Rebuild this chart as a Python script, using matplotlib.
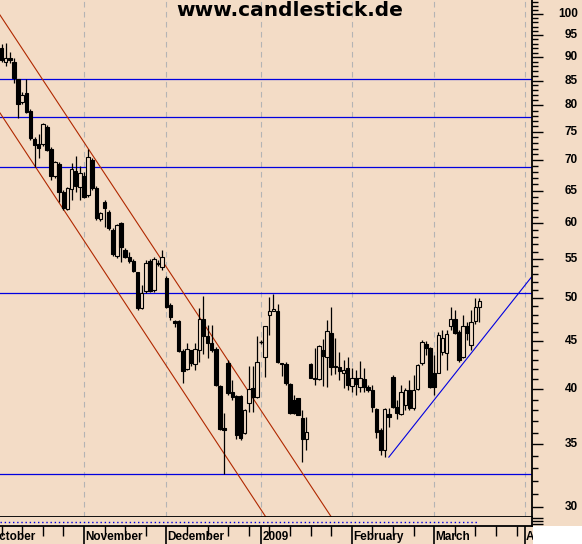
import numpy as np
import pandas as pd
import matplotlib
matplotlib.use("Agg")
import matplotlib.pyplot as plt
from matplotlib.patches import Rectangle
from matplotlib.ticker import FixedLocator, NullFormatter
import matplotlib.transforms as mtransforms

# ---------------- data ----------------
origin_date = "2008-10-01"          # first weekday of the x axis
first_bar_date = "2008-10-06"

opens = [92.06, 88.97, 89.84, 88.97, 85.35, 80.69, 82.49, 78.94, 73.72, 72.83,
         72.83, 75.92, 71.95, 67.36, 69.36, 64.77, 62.14, 65.25, 68.18, 65.57,
         67.36, 64.30, 70.04, 65.41, 60.64, 63.21, 61.69, 59.03, 55.40, 60.05,
         56.22, 55.27, 54.73, 53.28, 48.80, 50.87, 54.73, 50.99, 54.46, 53.94,
         52.51, 49.15, 47.26, 47.26, 43.93, 42.04, 44.04, 42.55, 44.04, 47.50,
         45.57, 44.80, 44.15, 40.33, 36.41, 42.66, 39.75, 39.36, 39.36, 35.96,
         38.69, 40.14, 39.27, 44.91, 43.29, 47.97, 48.44, 48.44, 42.66, 42.55,
         40.53, 38.98, 39.17, 37.30, 35.44, 42.55, 41.13, 41.03, 44.04, 43.29,
         45.90, 42.35, 42.25, 41.63, 42.14, 40.33, 41.13, 40.23, 41.03, 40.23,
         39.94, 38.13, 36.23, 34.50, 37.67, 41.23, 38.31, 37.67, 38.50, 39.94,
         38.22, 40.04, 42.66, 44.69, 44.26, 41.63, 41.63, 43.82, 43.72, 46.69,
         47.50, 46.02, 43.29, 46.69, 44.58, 47.26, 48.91]
highs = [92.97, 93.19, 91.17, 89.84, 85.35, 82.69, 85.35, 79.32, 74.08, 74.63,
         76.66, 76.29, 72.30, 69.87, 69.70, 65.09, 65.57, 69.53, 70.73, 69.02,
         68.02, 71.95, 70.38, 65.73, 61.69, 63.52, 61.99, 59.32, 59.90, 60.19,
         56.50, 55.95, 55.00, 53.28, 51.61, 54.86, 55.00, 55.27, 54.86, 56.22,
         52.76, 49.39, 47.38, 47.38, 44.15, 44.80, 44.04, 44.80, 48.80, 50.25,
         46.81, 46.81, 44.36, 40.43, 37.76, 42.98, 40.93, 39.46, 39.46, 38.13,
         42.35, 42.35, 45.57, 45.13, 46.69, 50.12, 50.49, 49.27, 42.66, 42.77,
         40.63, 39.46, 39.17, 38.04, 37.40, 42.66, 44.26, 44.58, 45.24, 47.38,
         48.91, 45.35, 43.82, 42.98, 43.29, 42.14, 41.94, 42.87, 42.14, 40.43,
         40.43, 38.22, 36.41, 38.22, 38.22, 41.43, 38.98, 40.43, 40.14, 40.93,
         41.43, 42.55, 45.13, 45.02, 44.36, 43.50, 46.02, 46.24, 46.24, 48.91,
         48.56, 46.24, 47.97, 47.15, 48.56, 50.00, 50.00]
lows = [88.97, 88.10, 88.75, 84.52, 77.61, 80.31, 78.55, 73.54, 68.85, 70.38,
        72.47, 71.59, 66.70, 67.03, 63.21, 61.99, 61.99, 63.52, 64.77, 63.52,
        63.83, 63.99, 65.09, 60.49, 60.34, 59.47, 59.03, 55.40, 55.13, 54.59,
        55.13, 54.46, 53.28, 48.56, 48.68, 50.62, 50.74, 50.74, 54.07, 53.54,
        48.80, 47.38, 46.58, 43.82, 40.63, 41.94, 42.35, 41.94, 42.77, 43.61,
        43.19, 43.82, 40.33, 36.23, 32.53, 39.46, 38.98, 35.44, 35.35, 35.88,
        37.86, 37.86, 39.17, 44.69, 41.23, 45.68, 48.44, 42.66, 41.33, 40.43,
        37.67, 37.67, 37.58, 33.50, 34.50, 41.13, 40.43, 40.93, 40.33, 40.23,
        41.43, 41.53, 40.93, 40.14, 39.94, 39.75, 39.46, 39.75, 39.75, 39.75,
        37.86, 35.53, 34.08, 33.91, 36.49, 38.22, 37.21, 37.58, 38.04, 38.04,
        38.04, 39.94, 42.45, 43.50, 40.14, 39.46, 41.63, 43.50, 41.94, 46.24,
        45.79, 42.77, 43.19, 45.13, 44.04, 46.92, 47.15]
closes = [89.41, 89.84, 89.41, 85.56, 80.31, 82.09, 78.74, 73.90, 72.65, 72.12,
          76.48, 71.77, 67.36, 69.70, 64.77, 62.29, 65.41, 68.52, 65.73, 67.85,
          63.99, 70.55, 65.41, 60.79, 61.53, 62.29, 59.32, 55.68, 59.76, 56.63,
          55.27, 54.73, 53.41, 48.80, 50.62, 54.46, 50.87, 55.00, 54.33, 55.27,
          48.91, 47.74, 47.03, 43.93, 41.84, 44.15, 42.66, 44.15, 47.50, 45.57,
          44.80, 44.04, 40.43, 36.32, 36.23, 39.65, 39.27, 35.79, 35.53, 38.04,
          40.04, 39.27, 42.77, 44.91, 46.69, 48.44, 48.68, 42.77, 42.55, 40.63,
          37.76, 37.76, 37.58, 35.44, 36.05, 41.13, 41.03, 44.47, 43.40, 46.13,
          42.25, 42.25, 41.84, 41.94, 40.43, 41.13, 40.53, 41.13, 40.23, 39.94,
          38.31, 36.05, 34.50, 38.13, 37.40, 38.31, 37.76, 39.75, 39.94, 38.22,
          39.94, 42.45, 44.91, 44.26, 40.23, 40.23, 45.68, 45.35, 45.79, 47.50,
          45.90, 42.98, 46.69, 45.90, 47.15, 48.91, 49.64]

horizontal_levels = [85.3, 77.7, 68.85, 50.6, 32.5]
# channel lines: (bar index, price) pairs
channel_upper = [(3, 99.2), (80, 30.68)]
channel_lower = [(3, 78.1), (60, 32.67)]
uptrend = [(97, 33.9), (120, 45.4)]

ytick_values = [30, 35, 40, 45, 50, 55, 60, 65, 70, 75, 80, 85, 90, 95, 100]
month_dates = ["2008-10-01", "2008-11-03", "2008-12-01", "2009-01-01",
               "2009-02-02", "2009-03-02", "2009-04-01"]
month_labels = ["October", "November", "December", "2009", "February",
                "March", "April"]
title_text = "www.candlestick.de"

# ---------------- styling ----------------
BG = "#F3DCC6"
GRID = "#B4B4B4"
RED = "#B02800"
BLUE = "#0000E0"
W, H = 582, 544
FONT = "Liberation Sans"

xpos0 = int(np.busday_count(origin_date, first_bar_date))
n = len(closes)
xpos = np.arange(n) + xpos0
XMIN, XMAX = 2.62, 131.75
YMIN, YMAX = 29.29, 103.5

fig = plt.figure(figsize=(W / 100, H / 100), dpi=100, facecolor=BG)
ax = fig.add_axes([0, 27 / H, 532 / W, 517 / H], facecolor=BG)
ax.set_yscale("log")

# month grid lines
month_pos = [int(np.busday_count(origin_date, d)) for d in month_dates]
for mp in month_pos:
    ax.axvline(mp, color=GRID, lw=0.8, ls=(0, (5, 4)), zorder=1)

# horizontal levels
for lv in horizontal_levels:
    ax.axhline(lv, color=BLUE, lw=0.9, zorder=2)

# channel lines
ax.axline(channel_upper[0], channel_upper[1], color=RED, lw=0.8, zorder=2)
ax.axline(channel_lower[0], channel_lower[1], color=RED, lw=0.8, zorder=2)

# uptrend line from its start to the right edge
(ux0, uy0), (ux1, uy1) = uptrend
slope = (np.log(uy1) - np.log(uy0)) / (ux1 - ux0)
ux_end = XMAX + 2
uy_end = np.exp(np.log(uy0) + slope * (ux_end - ux0))
ax.plot([ux0, ux_end], [uy0, uy_end], color=BLUE, lw=0.8, zorder=2)

# candles
bw = 0.86
for x, o, h, l, c in zip(xpos, opens, highs, lows, closes):
    ax.vlines(x, l, h, color="black", lw=0.9, zorder=3)
    lo, hi = min(o, c), max(o, c)
    if hi - lo < 1e-6:
        ax.hlines(lo, x - bw / 2, x + bw / 2, color="black", lw=1.0, zorder=4)
        continue
    face = "black" if c < o else BG
    ax.add_patch(Rectangle((x - bw / 2, lo), bw, hi - lo, facecolor=face,
                           edgecolor="black", lw=0.8, zorder=4))

ax.set_xlim(XMIN, XMAX)
ax.set_ylim(YMIN, YMAX)

# spines
for s in ["left", "top"]:
    ax.spines[s].set_visible(False)
ax.spines["right"].set_linewidth(1.3)
ax.spines["bottom"].set_linewidth(1.3)
ax.set_xticks([])
ax.set_xlim(XMIN, XMAX)

# right axis ticks
ax.yaxis.tick_right()
ax.yaxis.set_major_locator(FixedLocator(ytick_values))
ax.yaxis.set_minor_locator(FixedLocator([v for v in range(29, 104) if v % 5]))
ax.yaxis.set_major_formatter(NullFormatter())
ax.yaxis.set_minor_formatter(NullFormatter())
ax.tick_params(axis="y", which="major", length=8, width=1, direction="out",
               right=True, left=False)
ax.tick_params(axis="y", which="minor", length=4, width=1, direction="out",
               right=True, left=False)
ax.set_ylim(YMIN, YMAX)
trans = mtransforms.blended_transform_factory(ax.transAxes, ax.transData)
for v in ytick_values:
    ax.text(578 / 532, v, str(v), transform=trans, ha="right", va="center",
            fontsize=8.5, fontweight="bold", family=FONT, clip_on=False)

# lower small panel
ax2 = fig.add_axes([0, 18 / H, 532 / W, 9 / H], facecolor=BG)
ax2.hlines(0.45, XMIN, xpos[-1], color=BLUE, lw=1.0, ls=(0, (1, 2)))
for s in ["left", "top"]:
    ax2.spines[s].set_visible(False)
ax2.spines["right"].set_linewidth(1.3)
ax2.spines["bottom"].set_linewidth(1.3)
mondays = pd.date_range("2008-10-06", "2009-04-01", freq="W-MON")
monday_pos = [int(np.busday_count(origin_date, d.strftime("%Y-%m-%d"))) for d in mondays]
ax2.set_xticks(month_pos)
ax2.set_xticks(monday_pos, minor=True)
ax2.xaxis.set_major_formatter(NullFormatter())
ax2.tick_params(axis="x", which="major", length=18, width=1.2, direction="out")
ax2.tick_params(axis="x", which="minor", length=7, width=1.0, direction="out")
ax2.yaxis.tick_right()
ax2.set_yticks([0.2, 0.55, 0.85])
ax2.set_yticklabels([])
ax2.tick_params(axis="y", length=8, width=1, direction="out")
ax2.set_xlim(XMIN, XMAX)
ax2.set_ylim(0, 1)

# month labels
tx = mtransforms.blended_transform_factory(ax2.transData, fig.transFigure)
for mp, lab in zip(month_pos, month_labels):
    ax2.text(mp + 0.3, 1 - 537 / H, lab, transform=tx, ha="left", va="center",
             fontsize=8.5, fontweight="bold", family=FONT, clip_on=False)

# white corner at bottom right
fig.patches.append(Rectangle((533 / W, 0), 49 / W, 18 / H, transform=fig.transFigure,
                             facecolor="white", edgecolor="none", zorder=5))

# title
fig.text(290 / W, 1 - 11 / H, title_text, ha="center", va="center",
         fontsize=14.5, fontweight="bold", family="DejaVu Sans", zorder=10)

fig.savefig("out.png", dpi=100, facecolor=BG)
